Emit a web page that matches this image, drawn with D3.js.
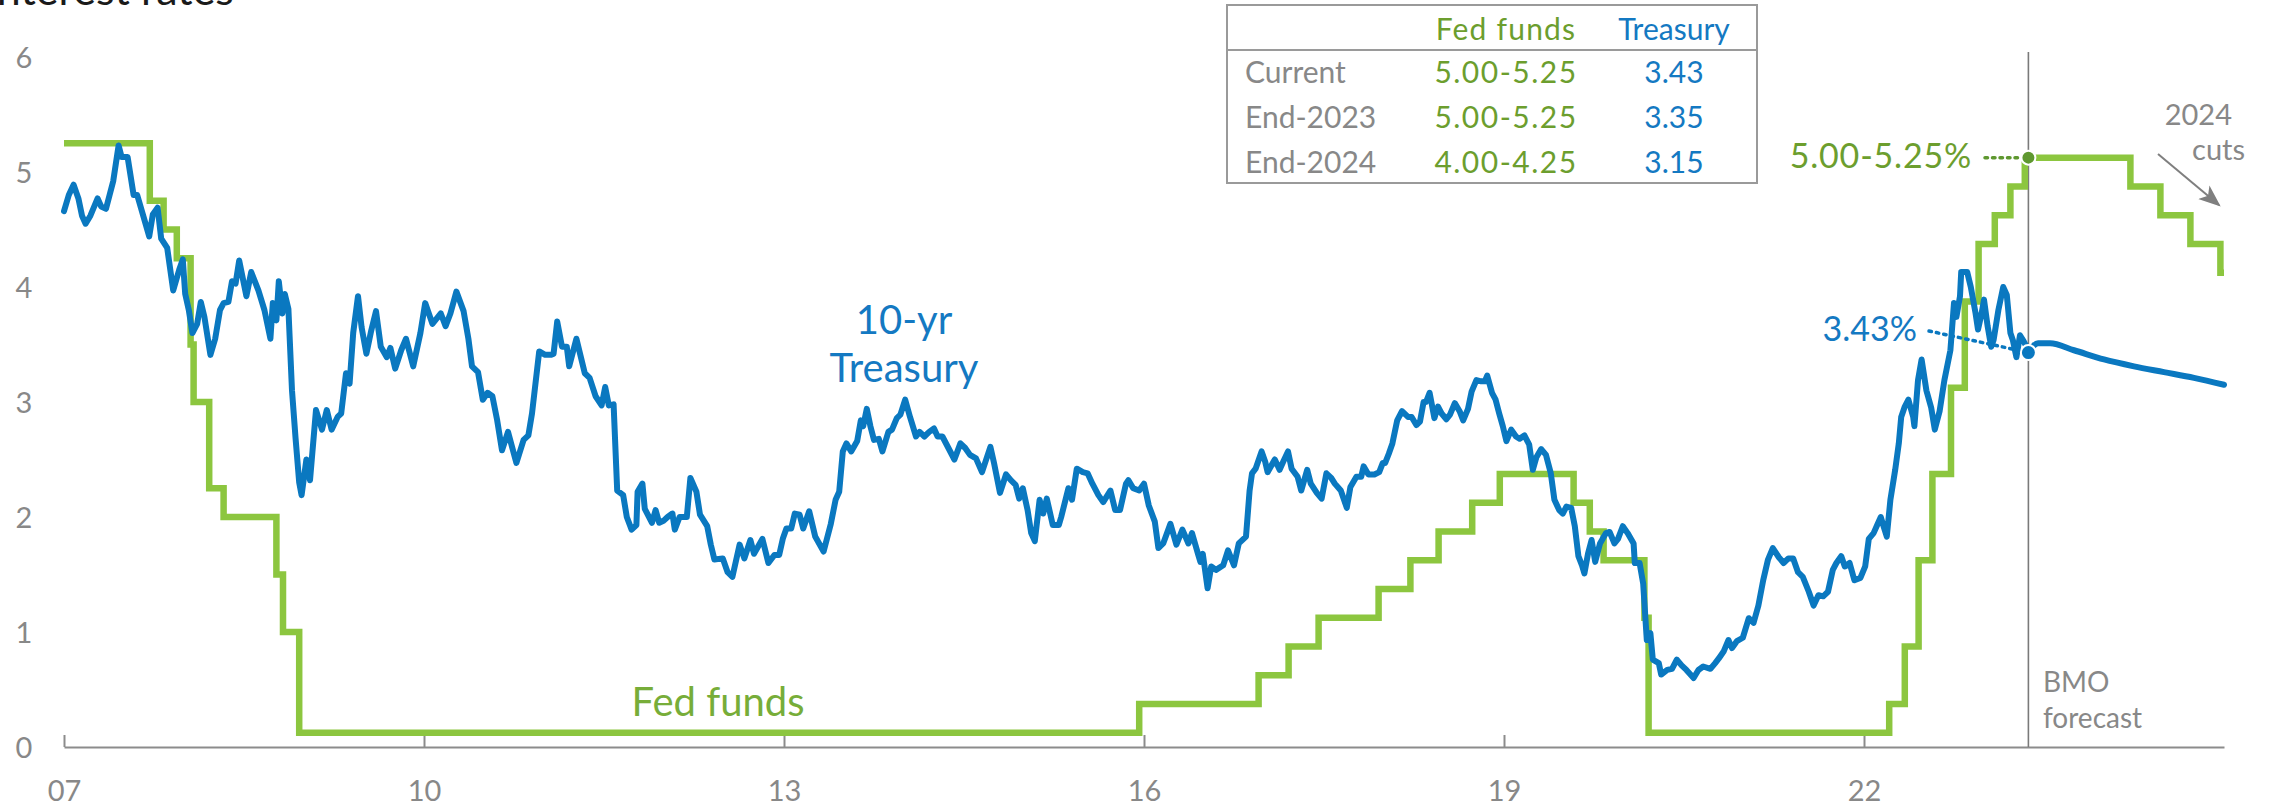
<!DOCTYPE html>
<html>
<head>
<meta charset="utf-8">
<script src="https://cdn.jsdelivr.net/npm/d3@7"></script>
<style>
  html, body { margin: 0; padding: 0; background: #ffffff; overflow: hidden; }
  svg { display: block; font-family: "Lato", "Open Sans", sans-serif; }
</style>
</head>
<body>
<svg id="chart" width="2272" height="807"></svg>
<script>
// ---------------- DATA ----------------
const xTickYears = [2007, 2010, 2013, 2016, 2019, 2022];
const yTickValues = [0, 1, 2, 3, 4, 5, 6];

// Fed funds target (midpoint), step changes [decimal year, rate]
const fedFundsHistory = [
  [2007.0,5.25],[2007.715,4.75],[2007.83,4.5],[2007.94,4.25],[2008.055,3.5],[2008.08,3.0],
  [2008.21,2.25],[2008.33,2.0],[2008.77,1.5],[2008.825,1.0],[2008.96,0.125],[2015.96,0.375],
  [2016.955,0.625],[2017.205,0.875],[2017.455,1.125],[2017.955,1.375],[2018.22,1.625],
  [2018.455,1.875],[2018.735,2.125],[2018.965,2.375],[2019.58,2.125],[2019.715,1.875],
  [2019.83,1.625],[2020.17,1.125],[2020.205,0.125],[2022.21,0.375],[2022.34,0.875],
  [2022.455,1.625],[2022.57,2.375],[2022.725,3.125],[2022.84,3.875],[2022.955,4.375],
  [2023.09,4.625],[2023.22,4.875],[2023.34,5.125]
];
const fedFundsForecast = [
  [2023.37,5.125],[2024.22,4.875],[2024.47,4.625],[2024.72,4.375],[2024.97,4.125],[2025.0,4.125]
];

// 10-yr Treasury yield [decimal year, %]
const treasuryHistory = [
  [2007.00,4.66],[2007.04,4.80],[2007.08,4.89],[2007.12,4.77],[2007.15,4.62],[2007.18,4.55],[2007.22,4.62],
  [2007.28,4.77],[2007.31,4.70],[2007.35,4.68],[2007.38,4.80],[2007.41,4.92],[2007.455,5.23],[2007.48,5.13],
  [2007.53,5.13],[2007.58,4.80],[2007.61,4.80],[2007.66,4.62],[2007.71,4.44],[2007.74,4.63],[2007.78,4.69],
  [2007.81,4.42],[2007.86,4.34],[2007.91,3.97],[2007.96,4.15],[2007.99,4.24],[2008.01,3.94],[2008.04,3.80],
  [2008.07,3.60],[2008.11,3.68],[2008.14,3.87],[2008.17,3.74],[2008.22,3.41],[2008.26,3.55],[2008.30,3.80],
  [2008.33,3.86],[2008.37,3.87],[2008.40,4.05],[2008.43,4.03],[2008.46,4.23],[2008.52,3.92],[2008.56,4.13],
  [2008.62,3.97],[2008.67,3.80],[2008.72,3.55],[2008.74,3.86],[2008.77,3.71],[2008.79,4.05],[2008.82,3.77],
  [2008.84,3.94],[2008.87,3.81],[2008.90,3.10],[2008.93,2.68],[2008.96,2.30],[2008.98,2.19],[2009.02,2.50],
  [2009.05,2.32],[2009.10,2.93],[2009.15,2.76],[2009.19,2.93],[2009.23,2.76],[2009.28,2.87],[2009.31,2.90],
  [2009.35,3.25],[2009.38,3.16],[2009.41,3.60],[2009.45,3.92],[2009.48,3.65],[2009.52,3.42],[2009.56,3.62],
  [2009.60,3.79],[2009.64,3.48],[2009.69,3.39],[2009.72,3.47],[2009.76,3.29],[2009.81,3.45],[2009.85,3.55],
  [2009.91,3.31],[2009.97,3.60],[2010.01,3.86],[2010.07,3.68],[2010.14,3.77],[2010.18,3.66],[2010.22,3.77],
  [2010.27,3.96],[2010.33,3.79],[2010.37,3.55],[2010.40,3.31],[2010.45,3.26],[2010.49,3.02],[2010.53,3.08],
  [2010.57,3.05],[2010.61,2.84],[2010.65,2.58],[2010.70,2.74],[2010.77,2.47],[2010.83,2.67],[2010.87,2.71],
  [2010.90,2.90],[2010.96,3.44],[2011.01,3.41],[2011.06,3.41],[2011.08,3.42],[2011.11,3.70],[2011.15,3.48],
  [2011.19,3.48],[2011.21,3.31],[2011.27,3.55],[2011.34,3.25],[2011.38,3.21],[2011.43,3.05],[2011.48,2.97],
  [2011.51,3.13],[2011.54,2.97],[2011.58,2.98],[2011.61,2.23],[2011.66,2.19],[2011.69,2.00],[2011.73,1.89],
  [2011.77,1.93],[2011.78,2.22],[2011.82,2.29],[2011.84,2.07],[2011.90,1.95],[2011.93,2.06],[2011.96,1.95],
  [2012.00,1.97],[2012.03,2.00],[2012.07,2.03],[2012.09,1.89],[2012.13,2.00],[2012.19,2.00],[2012.22,2.34],
  [2012.27,2.22],[2012.30,2.02],[2012.36,1.92],[2012.39,1.76],[2012.42,1.63],[2012.49,1.64],[2012.53,1.52],
  [2012.57,1.48],[2012.63,1.76],[2012.67,1.64],[2012.72,1.80],[2012.75,1.68],[2012.82,1.81],[2012.87,1.60],
  [2012.92,1.67],[2012.96,1.67],[2012.99,1.81],[2013.02,1.90],[2013.06,1.90],[2013.09,2.03],[2013.13,2.02],
  [2013.16,1.90],[2013.21,2.05],[2013.26,1.83],[2013.33,1.70],[2013.39,1.94],[2013.43,2.15],[2013.46,2.22],
  [2013.49,2.57],[2013.52,2.64],[2013.56,2.57],[2013.61,2.66],[2013.64,2.84],[2013.66,2.79],[2013.69,2.94],
  [2013.72,2.79],[2013.75,2.67],[2013.79,2.68],[2013.82,2.57],[2013.87,2.74],[2013.90,2.76],[2013.94,2.86],
  [2013.97,2.89],[2014.01,3.02],[2014.05,2.87],[2014.10,2.70],[2014.13,2.74],[2014.17,2.70],[2014.21,2.74],
  [2014.25,2.77],[2014.28,2.70],[2014.32,2.70],[2014.37,2.60],[2014.42,2.50],[2014.47,2.64],[2014.51,2.60],
  [2014.55,2.54],[2014.60,2.51],[2014.65,2.39],[2014.72,2.61],[2014.75,2.47],[2014.80,2.21],[2014.85,2.37],
  [2014.89,2.32],[2014.93,2.28],[2014.96,2.16],[2014.99,2.25],[2015.03,2.06],[2015.06,1.86],[2015.09,1.79],
  [2015.13,2.15],[2015.16,2.03],[2015.19,2.16],[2015.24,1.93],[2015.29,1.93],[2015.31,2.00],[2015.37,2.25],
  [2015.40,2.15],[2015.44,2.42],[2015.49,2.39],[2015.53,2.38],[2015.57,2.29],[2015.62,2.19],[2015.66,2.13],
  [2015.72,2.23],[2015.76,2.06],[2015.80,2.06],[2015.85,2.29],[2015.87,2.32],[2015.91,2.25],[2015.96,2.23],
  [2016.00,2.29],[2016.04,2.10],[2016.09,1.96],[2016.12,1.73],[2016.16,1.77],[2016.22,1.94],[2016.27,1.76],
  [2016.32,1.89],[2016.37,1.77],[2016.40,1.86],[2016.45,1.68],[2016.47,1.61],[2016.49,1.68],[2016.53,1.38],
  [2016.56,1.57],[2016.60,1.54],[2016.66,1.58],[2016.70,1.71],[2016.75,1.58],[2016.79,1.77],[2016.85,1.83],
  [2016.88,2.23],[2016.90,2.38],[2016.93,2.42],[2016.98,2.57],[2017.01,2.48],[2017.03,2.39],[2017.09,2.50],
  [2017.13,2.41],[2017.16,2.48],[2017.20,2.57],[2017.23,2.42],[2017.28,2.35],[2017.31,2.23],[2017.36,2.41],
  [2017.39,2.29],[2017.44,2.21],[2017.48,2.16],[2017.52,2.38],[2017.56,2.34],[2017.59,2.29],[2017.64,2.23],
  [2017.69,2.08],[2017.72,2.26],[2017.77,2.35],[2017.81,2.35],[2017.83,2.44],[2017.87,2.37],[2017.92,2.37],
  [2017.96,2.39],[2017.99,2.47],[2018.01,2.47],[2018.04,2.55],[2018.07,2.64],[2018.11,2.84],[2018.15,2.92],
  [2018.20,2.87],[2018.23,2.87],[2018.27,2.80],[2018.30,2.83],[2018.33,3.00],[2018.35,3.00],[2018.38,3.08],
  [2018.42,2.86],[2018.45,2.96],[2018.48,2.90],[2018.52,2.85],[2018.55,2.89],[2018.59,2.99],[2018.63,2.92],
  [2018.66,2.84],[2018.70,2.94],[2018.73,3.09],[2018.77,3.19],[2018.81,3.18],[2018.84,3.18],[2018.86,3.23],
  [2018.90,3.08],[2018.93,3.02],[2018.96,2.90],[2018.99,2.79],[2019.02,2.66],[2019.06,2.76],[2019.10,2.70],
  [2019.13,2.68],[2019.17,2.71],[2019.21,2.63],[2019.24,2.41],[2019.27,2.52],[2019.31,2.59],[2019.35,2.54],
  [2019.39,2.38],[2019.42,2.15],[2019.46,2.06],[2019.49,2.03],[2019.52,2.09],[2019.56,2.08],[2019.59,1.92],
  [2019.62,1.66],[2019.65,1.58],[2019.67,1.51],[2019.70,1.68],[2019.73,1.80],[2019.76,1.61],[2019.80,1.77],
  [2019.85,1.86],[2019.88,1.87],[2019.92,1.77],[2019.95,1.81],[2019.99,1.92],[2020.03,1.86],[2020.08,1.77],
  [2020.09,1.60],[2020.13,1.60],[2020.16,1.42],[2020.19,0.93],[2020.22,0.99],[2020.24,0.76],[2020.29,0.73],
  [2020.31,0.63],[2020.36,0.67],[2020.40,0.68],[2020.44,0.76],[2020.48,0.71],[2020.52,0.67],[2020.58,0.60],
  [2020.62,0.67],[2020.66,0.70],[2020.72,0.68],[2020.76,0.73],[2020.79,0.77],[2020.83,0.83],[2020.87,0.93],
  [2020.90,0.86],[2020.94,0.92],[2020.99,0.95],[2021.04,1.12],[2021.08,1.08],[2021.12,1.23],[2021.16,1.45],
  [2021.20,1.63],[2021.24,1.73],[2021.29,1.65],[2021.33,1.60],[2021.37,1.64],[2021.41,1.64],[2021.45,1.52],
  [2021.49,1.48],[2021.54,1.35],[2021.58,1.23],[2021.62,1.32],[2021.66,1.31],[2021.70,1.35],[2021.74,1.54],
  [2021.77,1.60],[2021.81,1.66],[2021.84,1.57],[2021.88,1.60],[2021.92,1.45],[2021.97,1.47],[2022.01,1.57],
  [2022.04,1.81],[2022.08,1.86],[2022.11,1.93],[2022.14,2.00],[2022.16,1.93],[2022.19,1.83],[2022.22,2.15],
  [2022.26,2.41],[2022.29,2.64],[2022.31,2.87],[2022.34,2.96],[2022.37,3.02],[2022.41,2.87],[2022.42,2.79],
  [2022.45,3.19],[2022.48,3.37],[2022.52,3.10],[2022.56,2.95],[2022.59,2.76],[2022.63,2.92],[2022.67,3.19],
  [2022.72,3.45],[2022.75,3.86],[2022.77,3.74],[2022.80,3.92],[2022.81,4.13],[2022.86,4.13],[2022.89,4.00],
  [2022.93,3.77],[2022.95,3.63],[2022.98,3.77],[2023.00,3.89],[2023.03,3.66],[2023.06,3.48],[2023.08,3.54],
  [2023.12,3.80],[2023.16,4.00],[2023.19,3.93],[2023.22,3.60],[2023.24,3.54],[2023.27,3.39],[2023.30,3.58],
  [2023.33,3.53],[2023.355,3.48],[2023.37,3.43]
];
const treasuryForecast = [
  [2023.37,3.43],[2023.45,3.51],[2023.55,3.51],[2023.75,3.45],[2024.0,3.37],
  [2024.25,3.31],[2024.5,3.26],[2024.75,3.21],[2025.0,3.15]
];

const forecastStart = 2023.37;
const currentFed = 5.125;
const currentTreasury = 3.43;

const tableHeaders = ["Fed funds", "Treasury"];
const tableRows = ["Current", "End-2023", "End-2024"];
const tableFed = ["5.00-5.25", "5.00-5.25", "4.00-4.25"];
const tableTreasury = ["3.43", "3.35", "3.15"];

// ---------------- STYLE ----------------
const GREEN = "#8cc63f", GREEN_TXT = "#6c9e2e", GREEN_DOT = "#5f9830";
const BLUE = "#0a78c0", BLUE_TXT = "#1479c2";
const GRAY = "#888888", AXIS = "#8c8c8c";

const svg = d3.select("#chart");
const x = d3.scaleLinear().domain([2007, 2025]).range([64, 2224]);
const y = d3.scaleLinear().domain([0, 6]).range([747, 57]);

// Title (partly cut off at the top)
svg.append("text").attr("x", -15).attr("y", 5)
  .attr("font-size", 43).attr("fill", "#1a1a1a").text("Interest rates");

// Y labels
const yAxis = d3.axisLeft(y).tickValues(yTickValues).tickSize(0).tickFormat(d3.format("d"));
const gy = svg.append("g").call(yAxis);
gy.select(".domain").remove();
gy.selectAll("text").attr("x", 24).attr("dy", "0.35em").attr("text-anchor", "middle")
  .attr("font-size", 29).attr("font-family", "Lato").attr("fill", GRAY);

// X axis
const xAxis = d3.axisBottom(x).tickValues(xTickYears).tickSize(-12).tickSizeOuter(0)
  .tickFormat(d => String(d).slice(2));
const gx = svg.append("g").attr("transform", `translate(0,${y(0)})`).call(xAxis);
gx.select(".domain").attr("stroke", AXIS).attr("stroke-width", 2);
gx.selectAll(".tick line").attr("stroke", AXIS).attr("stroke-width", 2);
gx.selectAll("text").attr("y", 54).attr("dy", 0).attr("font-size", 29)
  .attr("font-family", "Lato").attr("fill", GRAY);

// Forecast divider
svg.append("line").attr("x1", x(forecastStart)).attr("x2", x(forecastStart))
  .attr("y1", 52).attr("y2", y(0)).attr("stroke", "#7a7a7a").attr("stroke-width", 1.6);

// Lines
const stepLine = d3.line().x(d => x(d[0])).y(d => y(d[1])).curve(d3.curveStepAfter);
svg.append("path").datum(fedFundsHistory.concat(fedFundsForecast))
  .attr("d", stepLine).attr("fill", "none").attr("stroke", GREEN).attr("stroke-width", 6.5)
  .attr("stroke-linejoin", "miter");

const tLine = d3.line().x(d => x(d[0])).y(d => y(d[1]));
svg.append("path").datum(treasuryHistory)
  .attr("d", tLine).attr("fill", "none").attr("stroke", BLUE).attr("stroke-width", 6)
  .attr("stroke-linejoin", "round").attr("stroke-linecap", "round");
svg.append("path").datum(treasuryForecast)
  .attr("d", tLine.curve(d3.curveMonotoneX)).attr("fill", "none").attr("stroke", BLUE)
  .attr("stroke-width", 6).attr("stroke-linecap", "round");

// Labels on chart
svg.append("text").attr("x", x(2014.0)).attr("y", 334).attr("text-anchor", "middle")
  .attr("font-size", 40).attr("fill", BLUE_TXT).text("10-yr");
svg.append("text").attr("x", x(2014.0)).attr("y", 382).attr("text-anchor", "middle")
  .attr("font-size", 40).attr("fill", BLUE_TXT).text("Treasury");
svg.append("text").attr("x", x(2012.45)).attr("y", 716).attr("text-anchor", "middle")
  .attr("font-size", 40).attr("fill", "#77ad39").text("Fed funds");

// Current-value callouts
svg.append("line").attr("x1", 1985).attr("x2", x(forecastStart) - 9)
  .attr("y1", y(currentFed)).attr("y2", y(currentFed))
  .attr("stroke", GREEN_DOT).attr("stroke-width", 3.5).attr("stroke-dasharray", "2.5,5")
  .attr("stroke-linecap", "round");
svg.append("circle").attr("cx", x(forecastStart)).attr("cy", y(currentFed)).attr("r", 7)
  .attr("fill", GREEN_DOT).attr("stroke", "#fff").attr("stroke-width", 2);
svg.append("text").attr("x", 1972).attr("y", 168).attr("text-anchor", "end")
  .attr("font-size", 34).attr("letter-spacing", 0.8).attr("fill", GREEN_TXT).text("5.00-5.25%");

svg.append("line").attr("x1", 1929).attr("x2", x(forecastStart) - 9)
  .attr("y1", 331).attr("y2", y(currentTreasury) - 2)
  .attr("stroke", BLUE).attr("stroke-width", 3.5).attr("stroke-dasharray", "2.5,5")
  .attr("stroke-linecap", "round");
svg.append("circle").attr("cx", x(forecastStart)).attr("cy", y(currentTreasury)).attr("r", 7.5)
  .attr("fill", BLUE).attr("stroke", "#fff").attr("stroke-width", 2);
svg.append("text").attr("x", 1917).attr("y", 341).attr("text-anchor", "end")
  .attr("font-size", 34).attr("fill", BLUE_TXT).text("3.43%");

// 2024 cuts annotation
svg.append("text").attr("x", 2232).attr("y", 125).attr("text-anchor", "end")
  .attr("font-size", 29).attr("fill", GRAY).text("2024");
svg.append("text").attr("x", 2245).attr("y", 160).attr("text-anchor", "end")
  .attr("font-size", 29).attr("fill", GRAY).text("cuts");
const defs = svg.append("defs");
defs.append("marker").attr("id", "arr").attr("viewBox", "0 0 10 10").attr("refX", 9).attr("refY", 5)
  .attr("orient", "auto").attr("markerUnits", "userSpaceOnUse")
  .attr("markerWidth", 22).attr("markerHeight", 22)
  .append("path").attr("d", "M0,1 L10,5 L0,9 L2.5,5 Z").attr("fill", "#7f7f7f");
svg.append("line").attr("x1", 2158).attr("y1", 154).attr("x2", 2219).attr("y2", 205)
  .attr("stroke", "#7f7f7f").attr("stroke-width", 2).attr("marker-end", "url(#arr)");

// BMO forecast
svg.append("text").attr("x", 2043).attr("y", 692).attr("font-size", 28).attr("fill", GRAY).text("BMO");
svg.append("text").attr("x", 2043).attr("y", 728).attr("font-size", 28).attr("fill", GRAY).text("forecast");

// Table
const tbl = svg.append("g");
tbl.append("rect").attr("x", 1227).attr("y", 5).attr("width", 530).attr("height", 178)
  .attr("fill", "#fff").attr("stroke", "#9a9a9a").attr("stroke-width", 2);
tbl.append("line").attr("x1", 1227).attr("x2", 1757).attr("y1", 50).attr("y2", 50)
  .attr("stroke", "#9a9a9a").attr("stroke-width", 2);
const colX = [1506, 1674];
tbl.append("text").attr("x", colX[0]).attr("y", 40).attr("text-anchor", "middle")
  .attr("font-size", 30).attr("letter-spacing", 1.2).attr("fill", GREEN_TXT).text(tableHeaders[0]);
tbl.append("text").attr("x", colX[1]).attr("y", 40).attr("text-anchor", "middle")
  .attr("font-size", 30).attr("fill", BLUE_TXT).text(tableHeaders[1]);
const rowY = [83, 128, 173];
tableRows.forEach((r, i) => {
  tbl.append("text").attr("x", 1245).attr("y", rowY[i]).attr("font-size", 30).attr("fill", GRAY).text(r);
  tbl.append("text").attr("x", colX[0]).attr("y", rowY[i]).attr("text-anchor", "middle")
    .attr("font-size", 30).attr("letter-spacing", 1.5).attr("fill", GREEN_TXT).text(tableFed[i]);
  tbl.append("text").attr("x", colX[1]).attr("y", rowY[i]).attr("text-anchor", "middle")
    .attr("font-size", 30).attr("fill", BLUE_TXT).text(tableTreasury[i]);
});
</script>
</body>
</html>
